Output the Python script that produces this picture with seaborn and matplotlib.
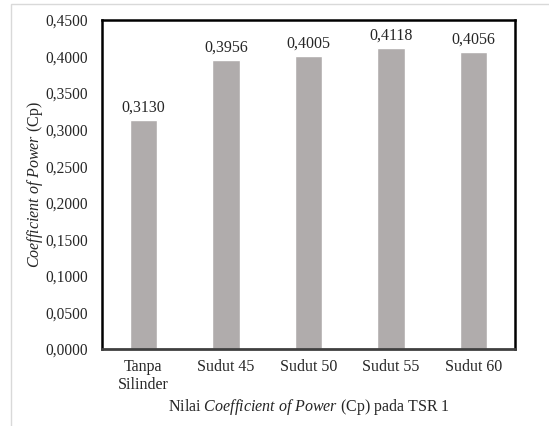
import matplotlib
matplotlib.use("Agg")
import matplotlib.pyplot as plt
import pandas as pd
import seaborn as sns
from matplotlib.patches import Rectangle

categories = ["Tanpa\nSilinder", "Sudut 45", "Sudut 50", "Sudut 55", "Sudut 60"]
cp_values = [0.3130, 0.3956, 0.4005, 0.4118, 0.4056]
y_ticks = [0.0, 0.05, 0.10, 0.15, 0.20, 0.25, 0.30, 0.35, 0.40, 0.45]


def fmt(v):
    return f"{v:.4f}".replace(".", ",")


def main():
    sns.set_style("white")
    plt.rcParams["font.family"] = ["Liberation Serif", "DejaVu Serif"]
    plt.rcParams["mathtext.fontset"] = "custom"
    plt.rcParams["mathtext.rm"] = "Liberation Serif"
    plt.rcParams["mathtext.it"] = "Liberation Serif:italic"

    df = pd.DataFrame({"kategori": categories, "cp": cp_values})

    fig = plt.figure(figsize=(5.49, 4.26), dpi=100)
    ax = fig.add_axes([0.186, 0.181, 0.752, 0.772])

    # light frame around the whole chart
    fig.patches.append(
        Rectangle((0.02, -0.01), 0.99, 1.0, transform=fig.transFigure,
                  fill=False, edgecolor="#d9d9d9", linewidth=1.0)
    )

    sns.barplot(data=df, x="kategori", y="cp", color="#b0acac",
                width=0.33, saturation=1, ax=ax)

    for i, v in enumerate(cp_values):
        ax.text(i, v + 0.006, fmt(v), ha="center", va="bottom", fontsize=11.5)

    ax.set_ylim(0, 0.45)
    ax.set_yticks(y_ticks)
    ax.set_yticklabels([fmt(t) for t in y_ticks], fontsize=11.2)
    ax.tick_params(axis="x", labelsize=11.5, length=0, pad=7)
    ax.tick_params(axis="y", length=0, pad=10)

    ax.set_xlabel(r"Nilai $\it{Coefficient\ of\ Power}$ (Cp) pada TSR 1",
                  fontsize=11.5, labelpad=3)
    ax.set_ylabel(r"$\it{Coefficient\ of\ Power}$ (Cp)", fontsize=11.5,
                  labelpad=0)

    for side in ["left", "right", "top"]:
        ax.spines[side].set_color("black")
        ax.spines[side].set_linewidth(1.8)
    ax.spines["bottom"].set_color("#404040")
    ax.spines["bottom"].set_linewidth(2.0)

    fig.savefig("out.png", dpi=100)


if __name__ == "__main__":
    main()
